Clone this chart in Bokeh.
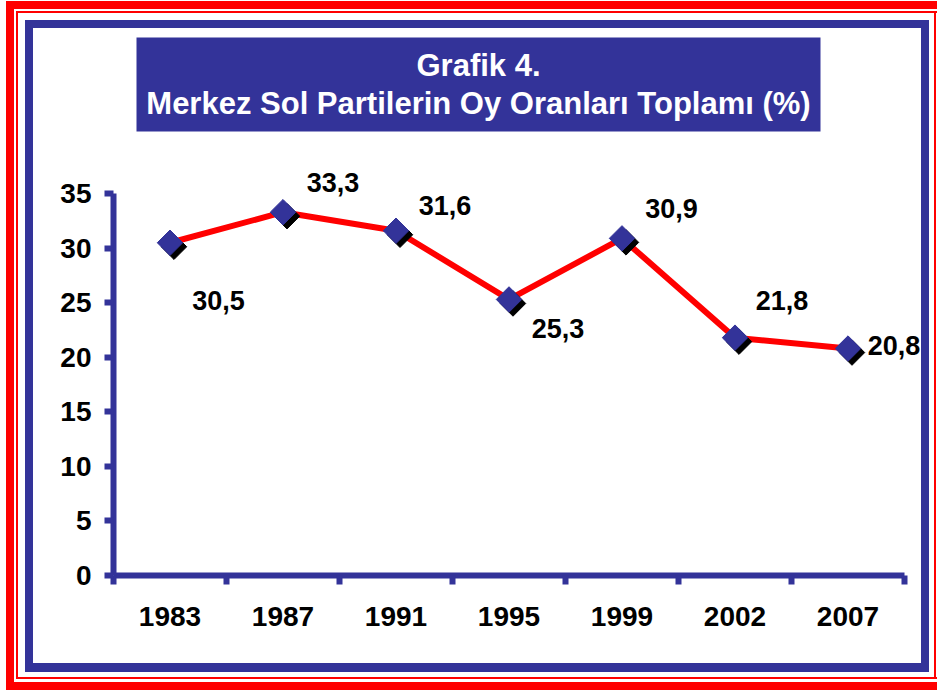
import math
from bokeh.plotting import figure
from bokeh.models import Range1d, FixedTicker, BoxAnnotation
from bokeh.core.properties import value
from bokeh.embed import file_html
from bokeh.resources import INLINE

# ---- data ----
years = ["1983", "1987", "1991", "1995", "1999", "2002", "2007"]
shares = [30.5, 33.3, 31.6, 25.3, 30.9, 21.8, 20.8]
y_ticks = [0, 5, 10, 15, 20, 25, 30, 35]
title_lines = ["Grafik 4.", "Merkez Sol Partilerin Oy Oranları Toplamı (%)"]

# ---- layout constants (pixels within the figure) ----
W, H = 937, 690
FL, FB = 113, 575          # frame left / frame bottom (figure px)
XPX, YPX = 113.0, 10.91    # px per category, px per percent
BLUE = "#333399"
RED = "#FF0000"
FONT = "Liberation Sans"

x_end = -0.5 + (W - FL) / XPX
y_end = FB / YPX


def dx(px):
    return -0.5 + (px - FL) / XPX


def dy(py):
    return (FB - py) / YPX


def rect(color, x, y, w, h):
    return f"linear-gradient({color},{color}) {x}px {y}px / {w}px {h}px no-repeat"


frame_layers = [
    # blue frame
    rect(BLUE, 25, 20, 904, 8),
    rect(BLUE, 25, 20, 8, 652),
    rect(BLUE, 921, 20, 8, 652),
    rect(BLUE, 25, 663, 904, 9),
    # thin red frame
    rect(RED, 16, 11, 921, 2),
    rect(RED, 16, 11, 2, 668),
    rect(RED, 934, 11, 2, 668),
    rect(RED, 16, 677, 921, 2),
    # thick red frame
    rect(RED, 6, 1, 931, 8),
    rect(RED, 6, 1, 8, 689),
    rect(RED, 6, 682, 931, 8),
]

p = figure(width=W, height=H, output_backend="svg", toolbar_location=None,
           x_range=Range1d(-0.5, x_end), y_range=Range1d(0, y_end),
           min_border_left=FL, min_border_right=0, min_border_top=0,
           min_border_bottom=H - FB, title=None)
p.outline_line_color = None
p.background_fill_color = None
p.border_fill_color = None
p.styles = {"background": ", ".join(frame_layers) + ", white"}
p.xgrid.visible = False
p.ygrid.visible = False

# title box
p.add_layout(BoxAnnotation(left=dx(136), right=dx(820), top=dy(37), bottom=dy(131),
                           fill_color=BLUE, fill_alpha=1, line_color=None,
                           level="underlay"))
tx = [dx(478)] * len(title_lines)
ty = [dy(65), dy(103)]
p.text(x=tx, y=ty, text=title_lines, text_color="white", text_font=value(FONT),
       text_font_style="bold", text_font_size="31px", text_align="center",
       text_baseline="middle")

# ---- series ----
xs = list(range(len(years)))
sh_dx = 4 / XPX
sh_dy = -4 / YPX
p.line(xs, shares, line_color=RED, line_width=6)
p.scatter([x + sh_dx for x in xs], [v + sh_dy for v in shares], marker="square",
          angle=math.pi / 4, size=18, fill_color="black", line_color="black")
p.scatter(xs, shares, marker="square", angle=math.pi / 4, size=18,
          fill_color=BLUE, line_color=BLUE)

labels = [f"{v:.1f}".replace(".", ",") for v in shares]
lab_dx = [48.5, 50, 49, 49, 49.5, 47, 46]
lab_dy = [58, -30, -25, 29, -30, -37, -3]
p.text(x=xs, y=shares, text=labels, x_offset=lab_dx, y_offset=lab_dy,
       text_color="black", text_font=value(FONT), text_font_style="bold",
       text_font_size="27px", text_align="center", text_baseline="middle")

# ---- axes ----
ya = p.yaxis[0]
ya.ticker = FixedTicker(ticks=y_ticks)
ya.bounds = (y_ticks[0], y_ticks[-1])
ya.axis_line_color = BLUE
ya.axis_line_width = 6
ya.major_tick_line_color = BLUE
ya.major_tick_line_width = 6
ya.major_tick_out = 9
ya.major_tick_in = 0
ya.minor_tick_line_color = None
ya.major_label_text_font = FONT
ya.major_label_text_font_style = "bold"
ya.major_label_text_font_size = "28px"
ya.major_label_text_color = "black"
ya.major_label_standoff = 13

xa = p.xaxis[0]
xa.ticker = FixedTicker(ticks=xs, minor_ticks=[i - 0.5 for i in range(len(xs) + 1)])
xa.bounds = (-0.5, len(xs) - 0.5)
xa.major_label_overrides = {i: y for i, y in enumerate(years)}
xa.axis_line_color = BLUE
xa.axis_line_width = 6
xa.major_tick_line_color = None
xa.major_tick_out = 0
xa.major_tick_in = 0
xa.minor_tick_line_color = BLUE
xa.minor_tick_line_width = 6
xa.minor_tick_out = 9
xa.minor_tick_in = 0
xa.major_label_text_font = FONT
xa.major_label_text_font_style = "bold"
xa.major_label_text_font_size = "28px"
xa.major_label_text_color = "black"
xa.major_label_standoff = 22

open("out.html", "w").write(file_html(p, INLINE))
